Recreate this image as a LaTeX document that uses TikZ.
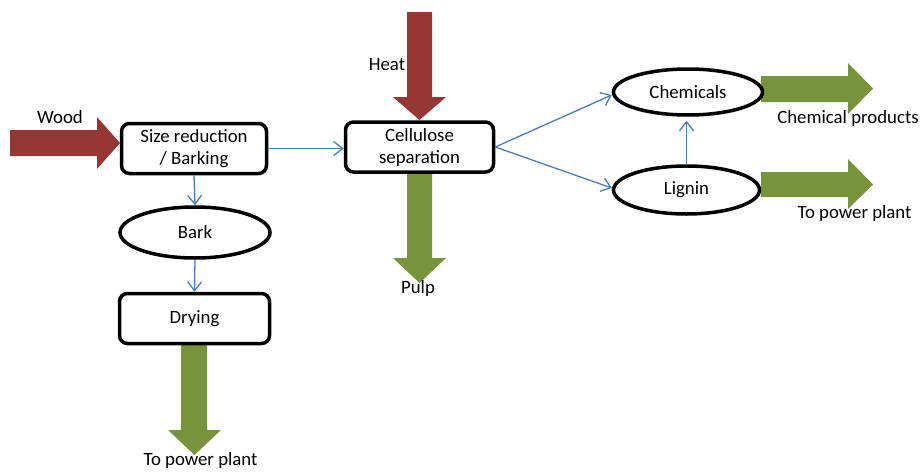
\documentclass[tikz,border=0pt]{standalone}
\usepackage{fontspec}
\setmainfont{Carlito}
\usetikzlibrary{arrows.meta,shapes.geometric}
\definecolor{heatred}{HTML}{953735}
\definecolor{flowgreen}{HTML}{77933C}
\definecolor{linkblue}{HTML}{4A7EBB}

\begin{document}
\begin{tikzpicture}[x=1pt,y=-1pt,
  every node/.style={font=\fontsize{18.8}{22}\selectfont},
  procbox/.style={draw=black, line width=3.5pt, rounded corners=8pt, fill=white,
                  align=center, inner sep=0pt},
  oval/.style={draw=black, line width=3.5pt, ellipse, fill=white, inner sep=0pt},
  link/.style={draw=linkblue, line width=1.3pt, -{Straight Barb[length=9pt,width=14pt]}},
  tag/.style={anchor=base, inner sep=0pt}
]
\useasboundingbox[fill=white] (0,0) rectangle (920,471);

% wide block arrows: inputs (red) and outputs (green)
\fill[heatred] (10,130) -- (97,130) -- (97,117) -- (120,143) -- (97,169) -- (97,156) -- (10,156) -- cycle;
\fill[heatred] (407,12) -- (432,12) -- (432,97) -- (446,97) -- (419.5,120) -- (393,97) -- (407,97) -- cycle;
\fill[flowgreen] (407,173) -- (432,173) -- (432,258) -- (446,258) -- (419.5,283) -- (393,258) -- (407,258) -- cycle;
\fill[flowgreen] (181,345) -- (207,345) -- (207,430) -- (221,430) -- (194.5,455) -- (168,430) -- (181,430) -- cycle;
\fill[flowgreen] (761,76) -- (848,76) -- (848,63) -- (873,88.5) -- (848,114) -- (848,102) -- (761,102) -- cycle;
\fill[flowgreen] (761,172) -- (848,172) -- (848,159) -- (873,184.5) -- (848,209) -- (848,197) -- (761,197) -- cycle;

% process steps
\node[procbox, minimum width=145pt, minimum height=50pt] (size) at (194,148.5) {Size reduction\\/ Barking};
\node[procbox, minimum width=148pt, minimum height=50pt] (cell) at (419.5,147) {Cellulose\\separation};
\node[procbox, minimum width=150pt, minimum height=50pt] (dry) at (194.5,318.5) {Drying};
\node[oval, minimum width=150pt, minimum height=51pt] (bark) at (195,232.5) {Bark};
\node[oval, minimum width=149pt, minimum height=46pt] (chem) at (688,92) {Chemicals};
\node[oval, minimum width=146pt, minimum height=48pt] (lig) at (686.5,190) {Lignin};

% stream labels
\node[tag] (wood) at (60,123) {Wood};
\node[tag] (heat) at (387,70) {Heat};
\node[tag] (pulp) at (418,293) {Pulp};
\node[tag] (chemprod) at (848,123) {Chemical products};
\node[tag] (power1) at (854.5,218) {To power plant};
\node[tag] (power2) at (200.5,465) {To power plant};

% material flow links
\draw[link] (size.east) -- (size.east -| cell.west);
\draw[link] (size.south) -- (bark.north);
\draw[link] (bark.south) -- (dry.north);
\draw[link] (cell.east) -- ([yshift=-3pt]chem.west);
\draw[link] (cell.east) -- ([yshift=2pt]lig.west);
\draw[link, shorten >=4pt] (lig.north) -- (lig.north |- chem.south);
\end{tikzpicture}
\end{document}
